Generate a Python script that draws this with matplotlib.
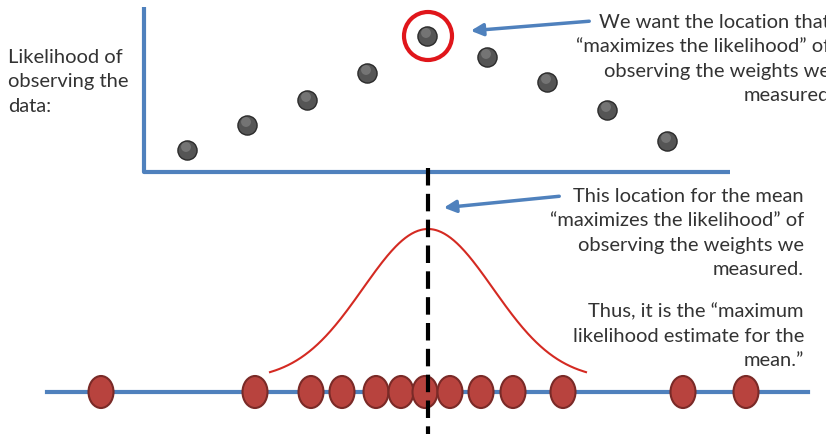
import numpy as np
import matplotlib.pyplot as plt
from matplotlib.patches import Ellipse, Circle

# candidate locations for the mean (x, px) and the likelihood at each (y, px from top)
cand_x = [187, 247, 307, 367, 427, 487, 547, 607, 667]
cand_lik = [151, 126, 101, 74, 37, 58, 83, 111, 142]
best = 4  # index of the maximum

# measured weights along the number line
weights = [101, 255, 311, 342, 376, 401, 425, 450, 481, 513, 563, 683, 746]

mu, sigma = 428, 65  # normal curve drawn over the data

blue = '#4f81bd'
txt = '#333333'
fs = 14.5
ls = 1.52
plt.rcParams['font.family'] = ['Lato', 'DejaVu Sans']

fig = plt.figure(figsize=(8.26, 4.35), dpi=100)
ax = fig.add_axes([0, 0, 1, 1])
ax.set_xlim(0, 826)
ax.set_ylim(435, 0)
ax.axis('off')

# top "axes"
ax.plot([144, 144, 730], [8, 173, 173], color=blue, lw=3, solid_capstyle='butt', zorder=1)
ax.scatter(cand_x, cand_lik, s=190, c='#555555', edgecolors='#2b2b2b', linewidths=1, zorder=3)
ax.scatter(np.array(cand_x) - 1, np.array(cand_lik) - 3, s=50, c='#7d7d7d', edgecolors='none',
           alpha=0.8, zorder=4)
ax.add_patch(Circle((cand_x[best] + 1, cand_lik[best]), 24, fill=False, ec='#e0161b', lw=3, zorder=5))

ax.text(8, 82, 'Likelihood of\nobserving the\ndata:', fontsize=fs, color=txt, va='center',
        ha='left', linespacing=ls)

ax.annotate('', xy=(468, 32), xytext=(592, 22),
            arrowprops=dict(arrowstyle='-|>', color=blue, lw=2.5, mutation_scale=18))
ax.text(830, 59, 'We want the location that\n\u201cmaximizes the likelihood\u201d of\n'
        'observing the weights we\nmeasured', fontsize=fs, color=txt, ha='right', va='center',
        linespacing=ls)

# middle text
ax.annotate('', xy=(441, 209), xytext=(562, 197),
            arrowprops=dict(arrowstyle='-|>', color=blue, lw=2.5, mutation_scale=18))
ax.text(804, 233, 'This location for the mean\n\u201cmaximizes the likelihood\u201d of\n'
        'observing the weights we\nmeasured.', fontsize=fs, color=txt, ha='right', va='center',
        linespacing=ls)
ax.text(804, 336, 'Thus, it is the \u201cmaximum\nlikelihood estimate for the\nmean.\u201d',
        fontsize=fs, color=txt, ha='right', va='center', linespacing=ls)

# normal curve
xs = np.linspace(270, 586, 300)
ys = 381 - 151 * np.exp(-(xs - mu) ** 2 / (2 * sigma ** 2))
ax.plot(xs, ys, color='#d42a22', lw=1.5, zorder=2)

# number line and data
ax.plot([47, 808], [393, 393], color=blue, lw=3, zorder=1)
for w in weights:
    ax.add_patch(Ellipse((w, 393), 25, 32, fc='#b8433e', ec='#7a2a27', lw=1.5, zorder=3))

ax.plot([428, 428], [169, 435], color='black', lw=3, ls=(0, (4.2, 2.0)), zorder=6)

fig.savefig('out.png', dpi=100)
